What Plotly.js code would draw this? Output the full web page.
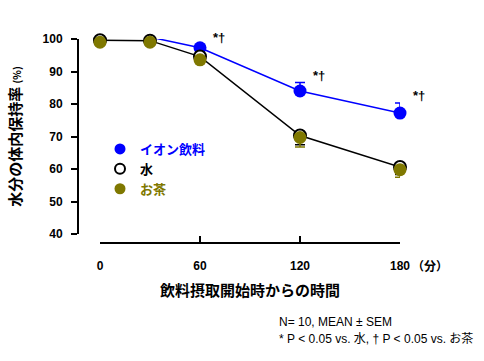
<!DOCTYPE html>
<html><head><meta charset="utf-8">
<script src="https://cdn.plot.ly/plotly-3.0.1.min.js"></script>
<style>html,body{margin:0;padding:0;background:#fff}#chart{width:484px;height:361px}</style>
</head><body><div id="chart"></div>
<script>
var times = [0, 30, 60, 120, 180];
var ionValues = [100.3, 100.6, 97.3, 84.0, 77.2];
var ionErrUp = [0.4, 0.4, 0.6, 2.6, 3.1];
var waterValues = [99.6, 99.5, 94.6, 70.3, 60.6];
var waterErrDown = [0.4, 0.4, 0.6, 2.8, 2.3];
var teaValues = [99.0, 99.0, 93.6, 69.7, 59.8];
var teaErrDown = [0.4, 0.4, 0.6, 2.9, 2.3];
var sigTimes = [60, 120, 180];
var sigLabel = '*†';
var names = ['イオン飲料', '水', 'お茶'];
var xTickVals = [0, 60, 120, 180];
var xTickText = ['0', '60', '120', '180'];

var FONT = 'Liberation Sans, Arial, Noto Sans CJK JP, sans-serif';
var JP = 'Noto Sans CJK JP, Liberation Sans, sans-serif';
var BLUE = '#0000ff', OLIVE = '#7f7800';

var traces = [
  {x: times, y: ionValues, mode: 'lines+markers', showlegend: false, cliponaxis: false,
   line: {color: BLUE, width: 1.5}, marker: {color: BLUE, size: 13},
   error_y: {type: 'data', symmetric: false, array: ionErrUp, arrayminus: [0,0,0,0,0], color: BLUE, thickness: 1.5, width: 5}},
  {x: times, y: waterValues, mode: 'lines+markers', showlegend: false, cliponaxis: false,
   line: {color: '#000', width: 1.5}, marker: {color: '#fff', size: 12, line: {color: '#000', width: 2}},
   error_y: {type: 'data', symmetric: false, array: [0,0,0,0,0], arrayminus: waterErrDown, color: '#000', thickness: 1.5, width: 5}},
  {x: times, y: teaValues, mode: 'markers', showlegend: false, cliponaxis: false,
   marker: {color: OLIVE, size: 13},
   error_y: {type: 'data', symmetric: false, array: [0,0,0,0,0], arrayminus: teaErrDown, color: OLIVE, thickness: 1.5, width: 5}},
  {x: [null], y: [null], mode: 'markers', name: '<span style="color:' + BLUE + '">' + names[0] + '</span>',
   marker: {color: BLUE, size: 11}},
  {x: [null], y: [null], mode: 'markers', name: '<span style="color:#000">' + names[1] + '</span>',
   marker: {color: '#fff', size: 10, line: {color: '#000', width: 2}}},
  {x: [null], y: [null], mode: 'markers', name: '<span style="color:' + OLIVE + '">' + names[2] + '</span>',
   marker: {color: OLIVE, size: 11}}
];

var annotations = sigTimes.map(function (t, i) {
  var idx = times.indexOf(t);
  var ys = [10, 15, 18][i];
  return {x: t, y: ionValues[idx], xref: 'x', yref: 'y', text: sigLabel, showarrow: false,
    xshift: 19, yshift: ys, font: {family: FONT, size: 13, color: '#000', weight: 'bold'}};
});
annotations.push({x: 180, y: 0, xref: 'x', yref: 'paper', text: '（分）', showarrow: false,
  xanchor: 'left', yanchor: 'middle', xshift: 10, yshift: 96,
  font: {family: JP, size: 12, color: '#000', weight: 'bold'}});
annotations.push({x: 277/484, y: 1 - 322/361, xref: 'paper', yref: 'paper', xanchor: 'left', yanchor: 'middle',
  text: 'N= 10, MEAN ± SEM', showarrow: false, font: {family: FONT, size: 12, color: '#000'}});
annotations.push({x: 277/484, y: 1 - 339/361, xref: 'paper', yref: 'paper', xanchor: 'left', yanchor: 'middle',
  text: '* P < 0.05 vs. 水, † P < 0.05 vs. お茶', showarrow: false, font: {family: FONT, size: 12, color: '#000'}});

var layout = {
  width: 484, height: 361,
  margin: {l: 0, r: 0, t: 0, b: 0},
  paper_bgcolor: '#fff', plot_bgcolor: 'rgba(0,0,0,0)',
  font: {family: FONT, color: '#000'},
  showlegend: true,
  legend: {x: 100/484, y: 1 - 134/361, xanchor: 'left', yanchor: 'top', bgcolor: 'rgba(0,0,0,0)',
    font: {family: JP, size: 13, weight: 'bold'}, itemwidth: 30, tracegroupgap: 0},
  xaxis: {domain: [100/484, 400/484], range: [0, 180], anchor: 'free', position: 1 - 243/361,
    showgrid: false, zeroline: false, showline: true, linecolor: '#000', linewidth: 2,
    ticks: 'inside', ticklen: 6, tickwidth: 2, tickcolor: '#000',
    tickvals: xTickVals, ticktext: xTickText, ticklabelstandoff: 12,
    tickfont: {family: FONT, size: 12, weight: 'bold'},
    title: {text: '飲料摂取開始時からの時間', font: {family: JP, size: 15, weight: 'bold'}, standoff: 12}},
  yaxis: {domain: [1 - 234/361, 1 - 39/361], range: [40, 100], anchor: 'free', position: 78/484,
    showgrid: false, zeroline: false, showline: true, linecolor: '#000', linewidth: 2,
    ticks: 'outside', ticklen: 6, tickwidth: 2, tickcolor: '#000', dtick: 10, tick0: 40,
    ticklabelstandoff: 6,
    tickfont: {family: FONT, size: 12, weight: 'bold'},
    title: {text: '水分の体内保持率 <span style="font-size:10px">(%)</span>', font: {family: JP, size: 15, weight: 'bold'}, standoff: 16}},
  annotations: annotations
};

Plotly.newPlot('chart', traces, layout, {displayModeBar: false, staticPlot: true});
</script></body></html>
